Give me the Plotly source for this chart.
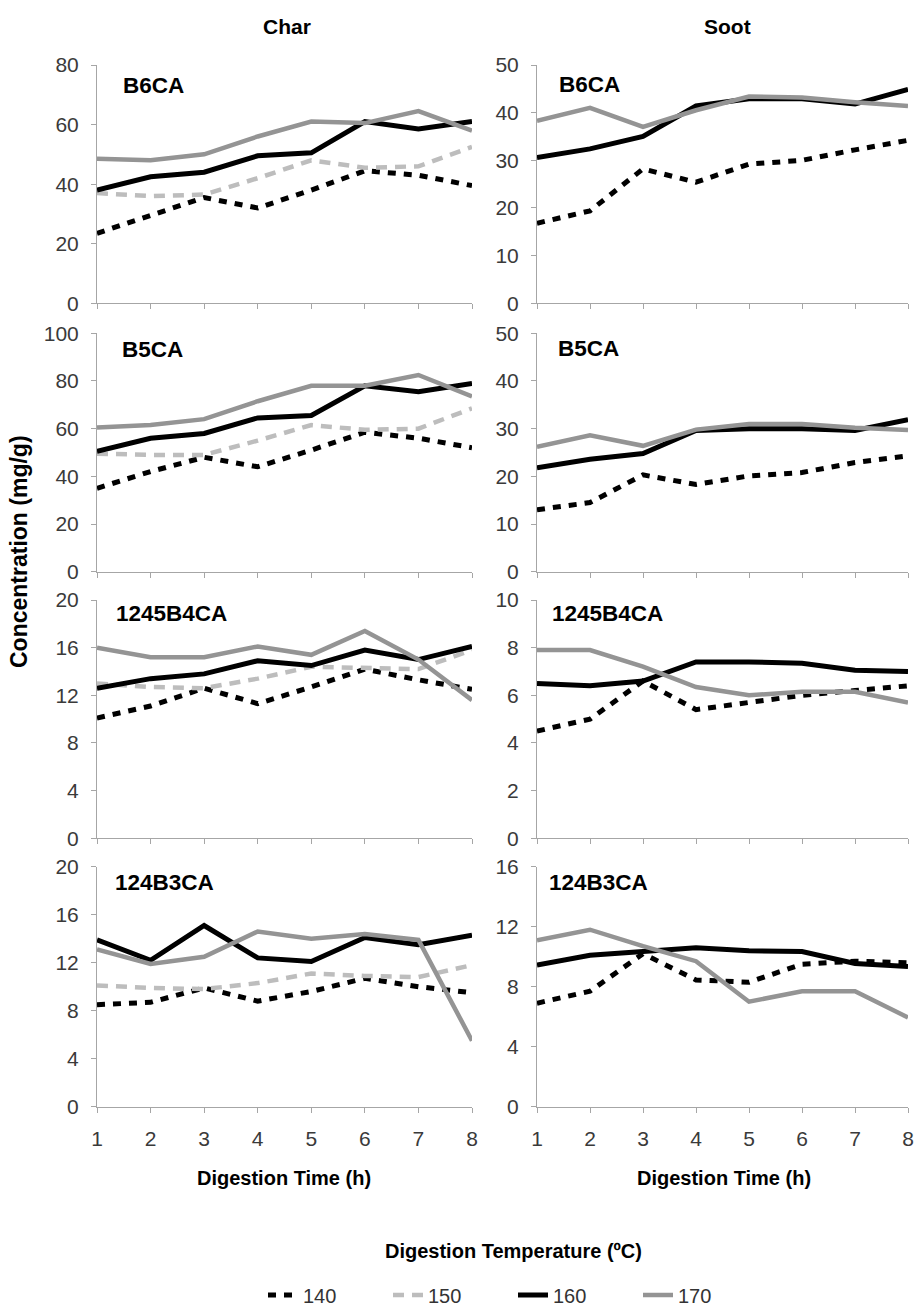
import plotly.graph_objects as go

hours = [1, 2, 3, 4, 5, 6, 7, 8]
temps = ["140", "150", "160", "170"]
compounds = ["B6CA", "B5CA", "1245B4CA", "124B3CA"]

# ---- Char ----
char_B6CA_140 = [23.5, 29.5, 35.5, 32, 38, 44.5, 43, 39.5]
char_B6CA_150 = [37, 36, 36.5, 42, 48, 45.5, 46, 52.5]
char_B6CA_160 = [38, 42.5, 44, 49.5, 50.5, 61, 58.5, 61]
char_B6CA_170 = [48.5, 48, 50, 56, 61, 60.5, 64.5, 58]

char_B5CA_140 = [35, 42, 48, 44, 51, 58.5, 56, 52]
char_B5CA_150 = [49.5, 49, 49, 55, 61.5, 59.5, 60, 68.5]
char_B5CA_160 = [50.5, 56, 58, 64.5, 65.5, 78, 75.5, 79]
char_B5CA_170 = [60.5, 61.5, 64, 71.5, 78, 78, 82.5, 73.5]

char_1245B4CA_140 = [10.1, 11.1, 12.6, 11.3, 12.7, 14.2, 13.3, 12.5]
char_1245B4CA_150 = [13, 12.7, 12.6, 13.4, 14.4, 14.3, 14.2, 15.8]
char_1245B4CA_160 = [12.6, 13.4, 13.8, 14.9, 14.5, 15.8, 15.0, 16.1]
char_1245B4CA_170 = [16, 15.2, 15.2, 16.1, 15.4, 17.4, 15, 11.6]

char_124B3CA_140 = [8.5, 8.7, 9.9, 8.8, 9.6, 10.7, 10.0, 9.5]
char_124B3CA_150 = [10.1, 9.9, 9.8, 10.3, 11.1, 10.9, 10.8, 11.8]
char_124B3CA_160 = [13.9, 12.2, 15.1, 12.4, 12.1, 14.1, 13.5, 14.3]
char_124B3CA_170 = [13.1, 11.9, 12.5, 14.6, 14.0, 14.4, 13.9, 5.5]

# ---- Soot (no 150 series) ----
soot_B6CA_140 = [16.8, 19.4, 28.2, 25.4, 29.2, 30, 32.2, 34.2]
soot_B6CA_160 = [30.6, 32.4, 35, 41.4, 42.9, 42.9, 41.8, 44.9]
soot_B6CA_170 = [38.3, 41, 37, 40.5, 43.4, 43.2, 42.2, 41.4]

soot_B5CA_140 = [13, 14.5, 20.3, 18.3, 20.1, 20.8, 22.9, 24.3]
soot_B5CA_160 = [21.8, 23.6, 24.8, 29.6, 30, 30, 29.6, 31.9]
soot_B5CA_170 = [26.2, 28.6, 26.4, 29.8, 31, 31, 30.2, 29.7]

soot_1245B4CA_140 = [4.5, 5.0, 6.6, 5.4, 5.7, 6.0, 6.2, 6.4]
soot_1245B4CA_160 = [6.5, 6.4, 6.6, 7.4, 7.4, 7.35, 7.05, 7.0]
soot_1245B4CA_170 = [7.9, 7.9, 7.2, 6.35, 6.0, 6.15, 6.15, 5.7]

soot_124B3CA_140 = [6.9, 7.7, 10.2, 8.45, 8.3, 9.5, 9.7, 9.6]
soot_124B3CA_160 = [9.45, 10.1, 10.35, 10.6, 10.4, 10.35, 9.55, 9.35]
soot_124B3CA_170 = [11.1, 11.8, 10.7, 9.7, 7.0, 7.7, 7.7, 5.95]

# y-axis scales per panel (max, step)
char_ymax = [80, 100, 20, 20]
char_ystep = [20, 20, 4, 4]
soot_ymax = [50, 50, 10, 16]
soot_ystep = [10, 10, 2, 4]

char_series = [
    {"140": char_B6CA_140, "150": char_B6CA_150, "160": char_B6CA_160, "170": char_B6CA_170},
    {"140": char_B5CA_140, "150": char_B5CA_150, "160": char_B5CA_160, "170": char_B5CA_170},
    {"140": char_1245B4CA_140, "150": char_1245B4CA_150, "160": char_1245B4CA_160, "170": char_1245B4CA_170},
    {"140": char_124B3CA_140, "150": char_124B3CA_150, "160": char_124B3CA_160, "170": char_124B3CA_170},
]
soot_series = [
    {"140": soot_B6CA_140, "160": soot_B6CA_160, "170": soot_B6CA_170},
    {"140": soot_B5CA_140, "160": soot_B5CA_160, "170": soot_B5CA_170},
    {"140": soot_1245B4CA_140, "160": soot_1245B4CA_160, "170": soot_1245B4CA_170},
    {"140": soot_124B3CA_140, "160": soot_124B3CA_160, "170": soot_124B3CA_170},
]

styles = {
    "140": dict(color="#000000", width=5, dash="8px,8px"),
    "150": dict(color="#bdbdbd", width=4.5, dash="11px,8px"),
    "160": dict(color="#000000", width=5, dash="solid"),
    "170": dict(color="#949494", width=4.5, dash="solid"),
}

W, H = 917, 1309
col_x = [(97, 472), (537, 908)]
row_y = [(65, 303.3), (333.3, 571.7), (600, 838.3), (866.7, 1106.7)]

FONT = "Liberation Sans, Arial, sans-serif"
AXCOL = "#a6a6a6"
TICKFONT = dict(family=FONT, size=21, color="#3a3a3a")

fig = go.Figure()
layout = {}

for r in range(4):
    for c in range(2):
        k = r * 2 + c + 1
        xa = "xaxis" if k == 1 else f"xaxis{k}"
        ya = "yaxis" if k == 1 else f"yaxis{k}"
        xref = "x" if k == 1 else f"x{k}"
        yref = "y" if k == 1 else f"y{k}"
        x0, x1 = col_x[c]
        ytop, ybot = row_y[r]
        layout[xa] = dict(
            domain=[x0 / W, x1 / W], anchor=yref, range=[1, 8],
            tickmode="array", tickvals=hours, ticktext=[str(h) for h in hours],
            showticklabels=(r == 3), ticks="outside", ticklen=5, tickcolor=AXCOL,
            showline=True, linecolor=AXCOL, linewidth=1, showgrid=False,
            zeroline=False, tickfont=TICKFONT,
            ticklabelstandoff=8, ticklabeloverflow="allow",
            automargin=False, fixedrange=True,
        )
        ymax = char_ymax[r] if c == 0 else soot_ymax[r]
        ystep = char_ystep[r] if c == 0 else soot_ystep[r]
        layout[ya] = dict(
            domain=[1 - ybot / H, 1 - ytop / H], anchor=xref, range=[0, ymax],
            tickmode="linear", tick0=0, dtick=ystep, ticks="outside", ticklen=5,
            tickcolor=AXCOL, showline=True, linecolor=AXCOL, linewidth=1,
            showgrid=False, zeroline=False,
            tickfont=TICKFONT,
            ticklabelstandoff=8, ticklabeloverflow="allow",
            automargin=False, fixedrange=True,
        )
        series = char_series[r] if c == 0 else soot_series[r]
        for t in temps:
            if t not in series:
                continue
            fig.add_trace(go.Scatter(
                x=hours, y=series[t], mode="lines", name=t,
                line=styles[t], xaxis=xref, yaxis=yref,
                showlegend=(k == 1), legendrank=int(t),
                hoverinfo="skip",
            ))

annotations = []
# column titles
for txt, xc in [("Char", 287), ("Soot", 727)]:
    annotations.append(dict(text=f"<b>{txt}</b>", x=xc / W, y=1 - 26 / H, xref="paper", yref="paper",
                            xanchor="center", yanchor="middle", showarrow=False,
                            font=dict(family=FONT, size=21, color="#000")))
# panel labels
label_pos = [
    [(121, 85), (557, 84)],
    [(120, 350), (556, 348)],
    [(114, 613), (550, 613)],
    [(113, 882), (547, 882)],
]
for r in range(4):
    for c in range(2):
        lx, ly = label_pos[r][c]
        annotations.append(dict(text=f"<b>{compounds[r]}</b>", x=lx / W, y=1 - ly / H,
                                xref="paper", yref="paper", xanchor="left", yanchor="middle",
                                showarrow=False, font=dict(family=FONT, size=22.5, color="#000")))
# y title
annotations.append(dict(text="<b>Concentration (mg/g)</b>", x=19 / W, y=1 - 552 / H,
                        xref="paper", yref="paper", xanchor="center", yanchor="middle",
                        textangle=-90, showarrow=False,
                        font=dict(family=FONT, size=23, color="#000")))
# x titles
for xc in [284, 724]:
    annotations.append(dict(text="<b>Digestion Time (h)</b>", x=xc / W, y=1 - 1178 / H,
                            xref="paper", yref="paper", xanchor="center", yanchor="middle",
                            showarrow=False, font=dict(family=FONT, size=20, color="#000")))
# legend title
annotations.append(dict(text="<b>Digestion Temperature (ºC)</b>", x=513 / W, y=1 - 1251 / H,
                        xref="paper", yref="paper", xanchor="center", yanchor="middle",
                        showarrow=False, font=dict(family=FONT, size=20, color="#000")))

fig.update_layout(
    width=W, height=H,
    margin=dict(l=0, r=0, t=0, b=0, autoexpand=False),
    paper_bgcolor="white", plot_bgcolor="white",
    annotations=annotations,
    showlegend=True,
    legend=dict(orientation="h", x=513 / W, xanchor="center", y=1 - 1295 / H, yanchor="middle",
                font=dict(family=FONT, size=20, color="#333"), bgcolor="rgba(0,0,0,0)",
                entrywidth=80, traceorder="normal"),
    **layout,
)

fig.write_html(
    "out.html",
    config={"displayModeBar": False},
    post_script="document.body.style.margin='0';document.body.style.overflow='hidden';",
)
